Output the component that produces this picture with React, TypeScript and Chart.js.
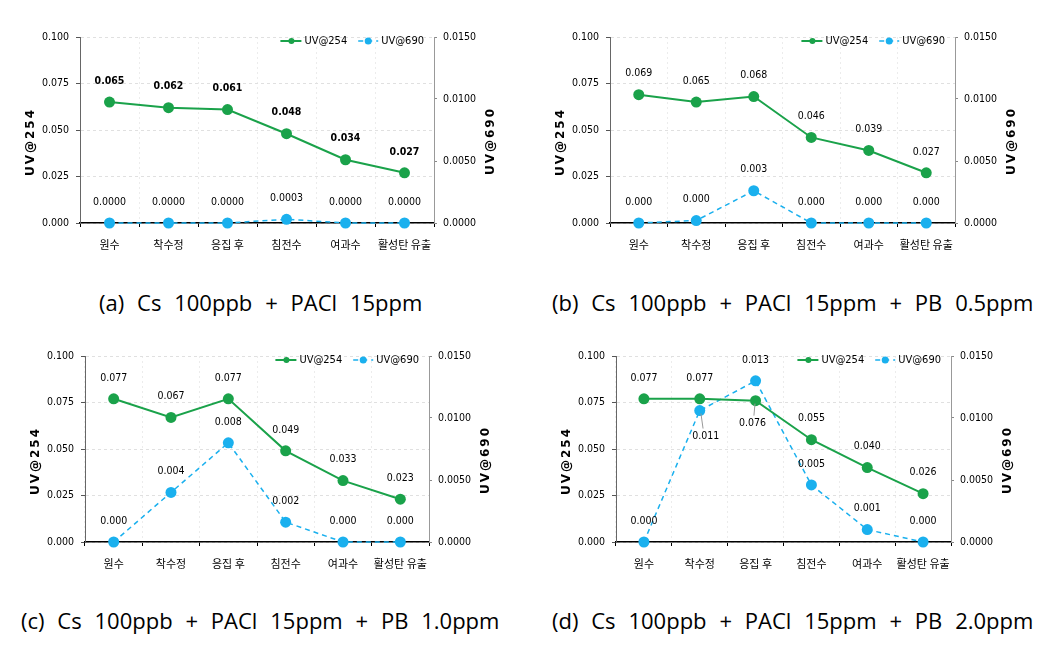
import React, { useEffect, useRef } from "react";
import { Chart, registerables } from "chart.js";

Chart.register(...registerables);

// ---------- data ----------
const categories = ["원수", "착수정", "응집 후", "침전수", "여과수", "활성탄 유출"];
const leftTicks = [0, 0.025, 0.05, 0.075, 0.1];
const rightTicks = [0, 0.005, 0.01, 0.015];
const seriesNames = ["UV@254", "UV@690"];

const uv254A = [0.065, 0.062, 0.061, 0.048, 0.034, 0.027];
const uv690A = [0.0, 0.0, 0.0, 0.0003, 0.0, 0.0];

const uv254B = [0.069, 0.065, 0.068, 0.046, 0.039, 0.027];
const uv690B = [0.0, 0.0002, 0.0026, 0.0, 0.0, 0.0];

const uv254C = [0.077, 0.067, 0.077, 0.049, 0.033, 0.023];
const uv690C = [0.0, 0.004, 0.008, 0.0016, 0.0, 0.0];

const uv254D = [0.077, 0.077, 0.076, 0.055, 0.04, 0.026];
const uv690D = [0.0, 0.0106, 0.013, 0.0046, 0.001, 0.0];

const captionA = "(a)  Cs  100ppb  +  PACl  15ppm";
const captionB = "(b)  Cs  100ppb  +  PACl  15ppm  +  PB  0.5ppm";
const captionC = "(c)  Cs  100ppb  +  PACl  15ppm  +  PB  1.0ppm";
const captionD = "(d)  Cs  100ppb  +  PACl  15ppm  +  PB  2.0ppm";

// ---------- styles / layout ----------
const GREEN = "#1aa24a";
const BLUE = "#1ab0ee";
const NARROW = '"DejaVu Sans Condensed", "Liberation Sans Narrow", sans-serif';
const KR = '"Noto Sans CJK KR", "Noto Sans", sans-serif';
const CAP = '"Open Sans", "Noto Sans", sans-serif';

type Panel = {
  key: string;
  canvas: { x: number; y: number; w: number; h: number };
  plot: { l: number; r: number; t: number; b: number };
  uv254: number[];
  uv690: number[];
  dec690: number;
  bold254: boolean;
  overrides: Record<string, { dx: number; dy: number; leader?: boolean }>;
  caption: string;
  capX: number;
  capY: number;
};

const panels: Panel[] = [
  {
    key: "a",
    canvas: { x: 0, y: 20, w: 520, h: 262 },
    plot: { l: 80, r: 434, t: 37, b: 223 },
    uv254: uv254A,
    uv690: uv690A,
    dec690: 4,
    bold254: true,
    overrides: {},
    caption: captionA,
    capX: 99,
    capY: 302,
  },
  {
    key: "b",
    canvas: { x: 520, y: 20, w: 536, h: 262 },
    plot: { l: 610, r: 955, t: 37, b: 223 },
    uv254: uv254B,
    uv690: uv690B,
    dec690: 3,
    bold254: false,
    overrides: {},
    caption: captionB,
    capX: 552,
    capY: 302,
  },
  {
    key: "c",
    canvas: { x: 0, y: 338, w: 520, h: 262 },
    plot: { l: 85, r: 429, t: 356, b: 542 },
    uv254: uv254C,
    uv690: uv690C,
    dec690: 3,
    bold254: false,
    overrides: {},
    caption: captionC,
    capX: 21,
    capY: 620,
  },
  {
    key: "d",
    canvas: { x: 520, y: 338, w: 536, h: 262 },
    plot: { l: 616, r: 951, t: 356, b: 542 },
    uv254: uv254D,
    uv690: uv690D,
    dec690: 3,
    bold254: false,
    overrides: {
      "0-2": { dx: -3, dy: 23, leader: true },
      "1-1": { dx: 6, dy: 26, leader: true },
    },
    caption: captionD,
    capX: 552,
    capY: 620,
  },
];

function makePlugin(p: Panel) {
  return {
    id: "custom_" + p.key,
    afterDatasetsDraw(chart: any) {
      const ctx = chart.ctx as CanvasRenderingContext2D;
      ctx.save();
      chart.data.datasets.forEach((ds: any, di: number) => {
        const meta = chart.getDatasetMeta(di);
        meta.data.forEach((pt: any, i: number) => {
          const v = ds.data[i] as number;
          const txt = di === 0 ? v.toFixed(3) : v.toFixed(p.dec690);
          const ov = p.overrides[di + "-" + i];
          const dx = ov ? ov.dx : 0;
          const dy = ov ? ov.dy : -21;
          const lx = pt.x + dx;
          const ly = pt.y + dy;
          if (ov && ov.leader) {
            ctx.strokeStyle = "#999";
            ctx.lineWidth = 1;
            ctx.beginPath();
            ctx.moveTo(pt.x + dx * 0.2, pt.y + 3);
            ctx.lineTo(pt.x + dx * 0.55, pt.y + dy - 8);
            ctx.stroke();
          }
          ctx.fillStyle = "#000";
          ctx.font = (di === 0 && p.bold254 ? "bold " : "") + "10.5px " + NARROW;
          ctx.textAlign = "center";
          ctx.textBaseline = "middle";
          ctx.fillText(txt, lx, ly);
        });
      });
      ctx.restore();
    },
    afterDraw(chart: any) {
      const ctx = chart.ctx as CanvasRenderingContext2D;
      const area = chart.chartArea;
      ctx.save();
      // axis titles
      ctx.fillStyle = "#000";
      ctx.font = "bold 12px " + '"DejaVu Sans", sans-serif';
      (ctx as any).letterSpacing = "2px";
      ctx.textAlign = "center";
      ctx.textBaseline = "middle";
      const midY = (area.top + area.bottom) / 2 + 12;
      ctx.save();
      ctx.translate(area.left - 49, midY);
      ctx.rotate(-Math.PI / 2);
      ctx.fillText(seriesNames[0], 0, 0);
      ctx.restore();
      ctx.save();
      ctx.translate(area.right + 57, midY - 1);
      ctx.rotate(-Math.PI / 2);
      ctx.fillText(seriesNames[1], 0, 0);
      ctx.restore();
      (ctx as any).letterSpacing = "0px";

      // legend
      ctx.font = "11px " + NARROW;
      ctx.textAlign = "left";
      const ly = area.top + 4;
      const w1 = ctx.measureText(seriesNames[0]).width;
      const w2 = ctx.measureText(seriesNames[1]).width;
      const t2x = area.right - 10 - w2;
      const s2x = t2x - 3 - 20;
      const t1x = s2x - 11 - w1;
      const s1x = t1x - 3 - 21;
      ctx.strokeStyle = GREEN;
      ctx.lineWidth = 2;
      ctx.beginPath();
      ctx.moveTo(s1x, ly);
      ctx.lineTo(s1x + 21, ly);
      ctx.stroke();
      ctx.fillStyle = GREEN;
      ctx.beginPath();
      ctx.arc(s1x + 11, ly, 3, 0, Math.PI * 2);
      ctx.fill();
      ctx.strokeStyle = BLUE;
      ctx.lineWidth = 1.5;
      ctx.setLineDash([5, 4]);
      ctx.beginPath();
      ctx.moveTo(s2x, ly);
      ctx.lineTo(s2x + 20, ly);
      ctx.stroke();
      ctx.setLineDash([]);
      ctx.fillStyle = BLUE;
      ctx.beginPath();
      ctx.arc(s2x + 10, ly, 3.5, 0, Math.PI * 2);
      ctx.fill();
      ctx.fillStyle = "#000";
      ctx.textBaseline = "middle";
      ctx.fillText(seriesNames[0], t1x, ly);
      ctx.fillText(seriesNames[1], t2x, ly);
      ctx.restore();
    },
  };
}

function PanelChart({ p }: { p: Panel }) {
  const ref = useRef<HTMLCanvasElement | null>(null);
  useEffect(() => {
    if (!ref.current) return;
    const c = p.canvas;
    const leftW = p.plot.l - c.x;
    const rightW = c.x + c.w - p.plot.r;
    const bottomH = c.y + c.h - p.plot.b;
    const topPad = p.plot.t - c.y;
    const chart = new Chart(ref.current, {
      type: "line",
      data: {
        labels: categories,
        datasets: [
          {
            label: seriesNames[0],
            data: p.uv254,
            yAxisID: "y",
            borderColor: GREEN,
            backgroundColor: GREEN,
            borderWidth: 2,
            pointRadius: 5.5,
            pointBorderWidth: 0,
            pointBackgroundColor: GREEN,
            tension: 0,
            clip: false,
          },
          {
            label: seriesNames[1],
            data: p.uv690,
            yAxisID: "y1",
            borderColor: BLUE,
            backgroundColor: BLUE,
            borderWidth: 1.5,
            borderDash: [5, 4],
            pointRadius: 5.5,
            pointBorderWidth: 0,
            pointBackgroundColor: BLUE,
            tension: 0,
            clip: false,
          },
        ],
      },
      options: {
        responsive: false,
        animation: false,
        maintainAspectRatio: false,
        layout: { padding: { top: topPad, left: 0, right: 0, bottom: 0 } },
        plugins: { legend: { display: false }, tooltip: { enabled: false } },
        scales: {
          x: {
            type: "category",
            offset: true,
            grid: {
              offset: true,
              color: "#ececec",
              tickColor: "#000",
              tickLength: 4,
              lineWidth: 1,
            },
            border: { color: "#000", width: 1.5, dash: [2, 3] },
            ticks: {
              color: "#000",
              font: { family: KR, size: 11 },
              padding: 11,
              maxRotation: 0,
              autoSkip: false,
            },
            afterFit: (s: any) => {
              s.height = bottomH;
            },
          },
          y: {
            position: "left",
            min: 0,
            max: 0.1,
            afterBuildTicks: (s: any) => {
              s.ticks = leftTicks.map((v) => ({ value: v }));
            },
            grid: { color: "#e0e0e0", tickColor: "#555", tickLength: 4, lineWidth: 1 },
            border: { color: "#666", width: 1, dash: [3, 3] },
            ticks: {
              color: "#000",
              font: { family: NARROW, size: 10.5 },
              padding: 7,
              callback: (v: any) => Number(v).toFixed(3),
            },
            afterFit: (s: any) => {
              s.width = leftW;
            },
          },
          y1: {
            position: "right",
            min: 0,
            max: 0.015,
            afterBuildTicks: (s: any) => {
              s.ticks = rightTicks.map((v) => ({ value: v }));
            },
            grid: { drawOnChartArea: false, tickColor: "#888", tickLength: 3, color: "#888" },
            border: { color: "#999", width: 1 },
            ticks: {
              color: "#000",
              font: { family: NARROW, size: 10.5 },
              padding: 6,
              callback: (v: any) => Number(v).toFixed(4),
            },
            afterFit: (s: any) => {
              s.width = rightW;
            },
          },
        },
      },
      plugins: [makePlugin(p)],
    } as any);
    return () => chart.destroy();
  }, [p]);
  return (
    <canvas
      ref={ref}
      width={p.canvas.w}
      height={p.canvas.h}
      style={{
        position: "absolute",
        left: p.canvas.x,
        top: p.canvas.y,
        width: p.canvas.w,
        height: p.canvas.h,
      }}
    />
  );
}

export default function App() {
  return (
    <div
      style={{
        position: "absolute",
        left: 0,
        top: 0,
        width: 1056,
        height: 654,
        background: "#fff",
        overflow: "hidden",
      }}
    >
      {panels.map((p) => (
        <PanelChart key={p.key} p={p} />
      ))}
      {panels.map((p) => (
        <div
          key={"cap" + p.key}
          style={{
            position: "absolute",
            left: p.capX,
            top: p.capY - 16,
            height: 32,
            lineHeight: "32px",
            fontFamily: CAP,
            fontSize: 22,
            wordSpacing: "0.7px",
            whiteSpace: "pre",
            color: "#000",
          }}
        >
          {p.caption}
        </div>
      ))}
    </div>
  );
}
